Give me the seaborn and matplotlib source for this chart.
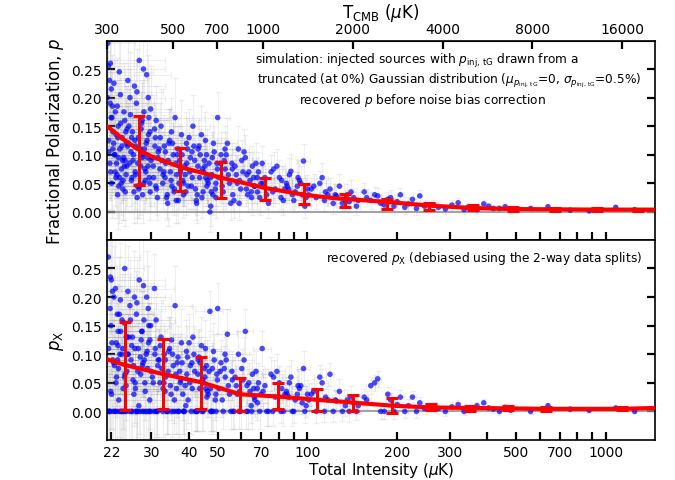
import numpy as np
import pandas as pd
import seaborn as sns
import matplotlib
matplotlib.use("Agg")
import matplotlib.pyplot as plt
from matplotlib.ticker import FixedLocator, FixedFormatter, NullLocator

# simulated sources (same sources in both panels)
intensity = [
    # 21-25 uK
    21.4, 21.5, 21.7, 21.8, 22.0, 22.1, 22.3, 22.4, 22.6, 22.7, 22.9, 23.0, 23.2, 23.3, 23.5, 23.6,
    23.8, 23.9, 24.1, 24.2, 24.4, 24.5, 24.7, 24.8, 21.6, 22.2, 22.8, 23.4, 24.0, 24.6, 21.9, 23.1,
    # 25-30
    25.1, 25.3, 25.5, 25.7, 25.9, 26.1, 26.3, 26.5, 26.7, 26.9, 27.1, 27.3, 27.6, 27.8, 28.0, 28.2,
    28.4, 28.7, 28.9, 29.1, 29.3, 29.6, 29.8, 25.4, 26.0, 26.6, 27.2, 27.9, 28.5, 29.0, 29.5, 26.2,
    # 30-40
    30.2, 30.5, 30.9, 31.2, 31.6, 32.0, 32.3, 32.7, 33.1, 33.5, 33.9, 34.3, 34.7, 35.1, 35.5, 36.0,
    36.4, 36.9, 37.3, 37.8, 38.2, 38.7, 39.1, 39.6, 30.7, 31.4, 32.5, 33.3, 34.5, 35.8, 36.6, 37.5,
    38.5, 39.4, 31.8, 34.0,
    # 40-50
    40.3, 40.8, 41.3, 41.9, 42.4, 43.0, 43.5, 44.1, 44.7, 45.3, 45.9, 46.5, 47.1, 47.8, 48.4, 49.1,
    49.7, 41.0, 42.7, 44.4, 46.2, 48.0, 49.4, 43.3, 45.6, 47.4,
    # 50-70
    50.5, 51.3, 52.2, 53.0, 53.9, 54.8, 55.8, 56.7, 57.7, 58.7, 59.7, 60.8, 61.9, 63.0, 64.2, 65.4,
    66.6, 67.9, 69.2, 52.6, 55.3, 58.2, 61.3, 64.8, 68.5, 50.0,
    # 70-100
    71, 73, 75.5, 78, 80.5, 83, 85.5, 88, 91, 94, 97, 99, 74, 79, 84, 89, 95, 98,
    # 100-150
    103, 107, 112, 117, 122, 128, 134, 140, 146, 110, 125, 138,
    # 150-250
    155, 163, 172, 181, 190, 200, 212, 225, 238, 247,
    # 250-500
    265, 290, 320, 345, 370, 405, 440, 480,
    # > 500
    560, 640, 760, 880, 1080, 1250,
    # second batch
    21.35, 21.55, 21.75, 21.95, 22.05, 22.25, 22.45, 22.65, 22.85, 23.05, 23.25, 23.45, 23.65,
    23.85, 24.05, 24.25, 24.45, 24.65, 24.85, 21.85, 22.55, 23.15, 23.75, 24.35, 24.95,
    25.2, 25.6, 25.8, 26.4, 26.8, 27.0, 27.4, 27.7, 28.1, 28.3, 28.6, 28.8, 29.2, 29.4, 29.7,
    29.9, 25.0, 26.45, 27.5, 28.25, 29.25, 25.75, 26.85, 27.95, 29.65,
    30.4, 30.8, 31.0, 31.5, 32.1, 32.8, 33.4, 33.7, 34.1, 34.9, 35.3, 35.7, 36.2, 36.8, 37.1,
    37.6, 38.0, 38.4, 38.9, 39.3, 39.8, 31.1, 33.0, 35.0, 36.3,
    40.5, 41.1, 41.6, 42.1, 42.9, 43.7, 44.3, 44.9, 45.5, 46.0, 46.8, 47.3, 48.2, 48.7, 49.3,
    49.9, 40.1, 42.5, 45.1, 47.6,
    51.0, 51.8, 53.4, 54.3, 56.2, 57.2, 59.2, 60.2, 62.4, 63.6, 65.0, 66.0, 67.2, 68.0, 69.8,
    52.9, 56.0, 59.0, 62.7, 66.3,
    72, 76.5, 77, 81.5, 82, 86.5, 87, 90, 92.5, 93, 96, 100, 70.5, 85,
    101, 105, 114, 119, 124, 131, 136, 143, 148, 115,
    158, 168, 176, 186, 195, 205, 218, 232,
    275, 305, 335, 390, 420, 460,
]
p_obs = [
    0.295, 0.255, 0.23, 0.19, 0.215, 0.165, 0.14, 0.12, 0.10, 0.175, 0.085, 0.065, 0.15, 0.045, 0.11, 0.205,
    0.075, 0.13, 0.055, 0.095, 0.16, 0.035, 0.12, 0.08, 0.105, 0.185, 0.06, 0.245, 0.09, 0.14, 0.07, 0.03,
    0.12, 0.085, 0.17, 0.055, 0.14, 0.10, 0.22, 0.065, 0.19, 0.045, 0.13, 0.265, 0.08, 0.155, 0.03, 0.25,
    0.11, 0.07, 0.24, 0.095, 0.135, 0.05, 0.18, 0.20, 0.09, 0.115, 0.04, 0.16, 0.075, 0.125, 0.06, 0.035,
    0.095, 0.06, 0.13, 0.04, 0.105, 0.075, 0.15, 0.05, 0.115, 0.085, 0.03, 0.12, 0.07, 0.045, 0.10, 0.165,
    0.065, 0.02, 0.09, 0.135, 0.055, 0.08, 0.035, 0.11, 0.145, 0.025, 0.09, 0.06, 0.125, 0.04, 0.10, 0.07,
    0.05, 0.085, 0.11, 0.015,
    0.07, 0.045, 0.15, 0.09, 0.02, 0.11, 0.06, 0.135, 0.035, 0.08, 0.10, 0.05, 0.0, 0.065, 0.12, 0.04,
    0.085, 0.105, 0.03, 0.075, 0.055, 0.095, 0.025, 0.115, 0.06, 0.01,
    0.06, 0.10, 0.035, 0.075, 0.12, 0.05, 0.085, 0.02, 0.065, 0.11, 0.04, 0.07, 0.095, 0.03, 0.055, 0.08,
    0.045, 0.06, 0.025, 0.09, 0.015, 0.05, 0.105, 0.035, 0.07, 0.165,
    0.05, 0.03, 0.07, 0.04, 0.06, 0.02, 0.045, 0.071, 0.035, 0.055, 0.089, 0.025, 0.015, 0.08, 0.04, 0.03, 0.05, 0.01,
    0.04, 0.025, 0.06, 0.03, 0.015, 0.045, 0.02, 0.035, 0.01, 0.05, 0.028, 0.018,
    0.035, 0.02, 0.028, 0.012, 0.025, 0.018, 0.008, 0.022, 0.028, 0.01,
    0.012, 0.005, 0.016, 0.008, 0.004, 0.01, 0.006, 0.003,
    0.006, 0.009, 0.003, 0.002, 0.008, 0.004,
    # second batch
    0.20, 0.125, 0.085, 0.165, 0.05, 0.11, 0.225, 0.07, 0.135, 0.185, 0.095, 0.06, 0.155,
    0.115, 0.04, 0.175, 0.09, 0.065, 0.145, 0.26, 0.10, 0.13, 0.05, 0.08, 0.115,
    0.15, 0.105, 0.06, 0.125, 0.21, 0.085, 0.045, 0.145, 0.10, 0.175, 0.055, 0.12, 0.08, 0.165, 0.035,
    0.09, 0.23, 0.07, 0.11, 0.05, 0.20, 0.13, 0.025, 0.095, 0.14,
    0.08, 0.115, 0.045, 0.095, 0.13, 0.065, 0.105, 0.025, 0.09, 0.055, 0.12, 0.035, 0.085, 0.11, 0.05,
    0.075, 0.10, 0.03, 0.065, 0.12, 0.045, 0.16, 0.07, 0.14, 0.02,
    0.095, 0.06, 0.115, 0.04, 0.08, 0.10, 0.025, 0.07, 0.125, 0.045, 0.085, 0.06, 0.03, 0.105, 0.05,
    0.075, 0.13, 0.015, 0.09, 0.035,
    0.085, 0.045, 0.10, 0.065, 0.03, 0.08, 0.055, 0.09, 0.04, 0.07, 0.025, 0.06, 0.085, 0.035, 0.05,
    0.11, 0.075, 0.015, 0.065, 0.045,
    0.06, 0.035, 0.075, 0.025, 0.055, 0.04, 0.065, 0.02, 0.045, 0.06, 0.03, 0.04, 0.085, 0.05,
    0.03, 0.045, 0.02, 0.04, 0.03, 0.015, 0.03, 0.025, 0.02, 0.035,
    0.025, 0.03, 0.015, 0.022, 0.01, 0.03, 0.014, 0.006,
    0.008, 0.012, 0.004, 0.014, 0.006, 0.009,
]
p_x = [
    0.0, 0.27, 0.0, 0.18, 0.23, 0.12, 0.0, 0.085, 0.0, 0.215, 0.06, 0.0, 0.14, 0.02, 0.10, 0.195,
    0.0, 0.16, 0.04, 0.0, 0.25, 0.0, 0.13, 0.07, 0.0, 0.21, 0.05, 0.17, 0.11, 0.0, 0.035, 0.09,
    0.10, 0.0, 0.16, 0.0, 0.13, 0.08, 0.20, 0.04, 0.17, 0.0, 0.11, 0.23, 0.065, 0.14, 0.0, 0.22,
    0.09, 0.0, 0.20, 0.075, 0.12, 0.02, 0.15, 0.185, 0.055, 0.0, 0.01, 0.14, 0.05, 0.105, 0.0, 0.03,
    0.06, 0.0, 0.11, 0.0, 0.09, 0.05, 0.13, 0.0, 0.10, 0.06, 0.0, 0.105, 0.045, 0.0, 0.08, 0.185,
    0.04, 0.0, 0.07, 0.12, 0.03, 0.0, 0.01, 0.095, 0.215, 0.0, 0.075, 0.035, 0.11, 0.02, 0.085, 0.05,
    0.0, 0.065, 0.09, 0.0,
    0.05, 0.0, 0.13, 0.07, 0.0, 0.09, 0.04, 0.115, 0.0, 0.06, 0.08, 0.03, 0.175, 0.0, 0.105, 0.02,
    0.065, 0.085, 0.0, 0.055, 0.035, 0.075, 0.0, 0.095, 0.04, 0.0,
    0.04, 0.085, 0.0, 0.06, 0.135, 0.03, 0.07, 0.0, 0.045, 0.10, 0.0, 0.055, 0.14, 0.0, 0.035, 0.065,
    0.02, 0.04, 0.0, 0.075, 0.0, 0.03, 0.09, 0.01, 0.05, 0.18,
    0.035, 0.0, 0.065, 0.025, 0.05, 0.0, 0.03, 0.06, 0.02, 0.04, 0.075, 0.01, 0.0, 0.07, 0.03, 0.0, 0.045, 0.0,
    0.03, 0.0, 0.05, 0.02, 0.0, 0.035, 0.01, 0.025, 0.0, 0.06, 0.018, 0.0,
    0.025, 0.045, 0.057, 0.0, 0.02, 0.012, 0.0, 0.025, 0.015, 0.005,
    0.008, 0.0, 0.012, 0.005, 0.01, 0.006, 0.0, 0.002,
    0.0, 0.01, 0.004, 0.002, 0.006, 0.0,
    # second batch
    0.0, 0.11, 0.0, 0.15, 0.03, 0.09, 0.20, 0.0, 0.12, 0.17, 0.075, 0.0, 0.14,
    0.10, 0.0, 0.155, 0.065, 0.045, 0.13, 0.235, 0.08, 0.115, 0.0, 0.06, 0.10,
    0.13, 0.09, 0.0, 0.11, 0.19, 0.07, 0.0, 0.125, 0.085, 0.16, 0.035, 0.10, 0.0, 0.15, 0.0,
    0.07, 0.21, 0.05, 0.095, 0.0, 0.18, 0.115, 0.0, 0.08, 0.125,
    0.05, 0.10, 0.0, 0.08, 0.115, 0.04, 0.09, 0.0, 0.07, 0.03, 0.10, 0.0, 0.065, 0.095, 0.0,
    0.055, 0.085, 0.0, 0.045, 0.105, 0.02, 0.16, 0.05, 0.125, 0.0,
    0.08, 0.04, 0.10, 0.0, 0.065, 0.085, 0.0, 0.05, 0.11, 0.025, 0.07, 0.04, 0.0, 0.09, 0.03,
    0.055, 0.12, 0.0, 0.075, 0.0,
    0.07, 0.02, 0.09, 0.045, 0.0, 0.06, 0.035, 0.075, 0.0, 0.05, 0.0, 0.04, 0.07, 0.015, 0.03,
    0.10, 0.055, 0.0, 0.045, 0.025,
    0.045, 0.0, 0.06, 0.0, 0.04, 0.025, 0.05, 0.0, 0.03, 0.045, 0.015, 0.03, 0.11, 0.035,
    0.02, 0.035, 0.0, 0.065, 0.02, 0.0, 0.02, 0.015, 0.01, 0.025,
    0.02, 0.05, 0.0, 0.03, 0.0, 0.025, 0.01, 0.0,
    0.005, 0.008, 0.0, 0.015, 0.004, 0.007,
]
p_err = [
    0.09, 0.08, 0.10, 0.07, 0.09, 0.08, 0.06, 0.085, 0.07, 0.09, 0.06, 0.075, 0.08, 0.065, 0.07, 0.10,
    0.06, 0.08, 0.07, 0.065, 0.09, 0.06, 0.075, 0.07, 0.08, 0.09, 0.06, 0.10, 0.07, 0.08, 0.065, 0.06,
    0.07, 0.06, 0.08, 0.055, 0.065, 0.07, 0.08, 0.06, 0.075, 0.055, 0.065, 0.09, 0.06, 0.07, 0.05, 0.085,
    0.065, 0.055, 0.08, 0.06, 0.07, 0.05, 0.075, 0.08, 0.06, 0.065, 0.05, 0.07, 0.055, 0.065, 0.05, 0.055,
    0.055, 0.05, 0.06, 0.045, 0.055, 0.05, 0.065, 0.045, 0.055, 0.05, 0.04, 0.06, 0.05, 0.045, 0.055, 0.07,
    0.05, 0.04, 0.05, 0.06, 0.045, 0.05, 0.04, 0.055, 0.06, 0.04, 0.05, 0.045, 0.055, 0.04, 0.05, 0.045,
    0.04, 0.05, 0.055, 0.04,
    0.045, 0.04, 0.055, 0.045, 0.035, 0.05, 0.04, 0.05, 0.035, 0.045, 0.045, 0.04, 0.035, 0.04, 0.05, 0.035,
    0.045, 0.045, 0.035, 0.04, 0.04, 0.045, 0.035, 0.05, 0.04, 0.035,
    0.035, 0.04, 0.03, 0.035, 0.045, 0.03, 0.035, 0.03, 0.035, 0.04, 0.03, 0.035, 0.04, 0.03, 0.03, 0.035,
    0.03, 0.035, 0.03, 0.04, 0.03, 0.03, 0.04, 0.03, 0.035, 0.045,
    0.03, 0.025, 0.03, 0.025, 0.03, 0.025, 0.025, 0.03, 0.025, 0.03, 0.03, 0.02, 0.025, 0.03, 0.025, 0.025, 0.03, 0.02,
    0.02, 0.02, 0.025, 0.02, 0.018, 0.022, 0.018, 0.02, 0.015, 0.022, 0.02, 0.018,
    0.015, 0.015, 0.014, 0.013, 0.013, 0.012, 0.012, 0.011, 0.011, 0.01,
    0.009, 0.008, 0.008, 0.007, 0.007, 0.006, 0.006, 0.006,
    0.005, 0.005, 0.004, 0.004, 0.003, 0.003,
    # second batch
    0.08, 0.07, 0.065, 0.085, 0.06, 0.07, 0.09, 0.06, 0.075, 0.085, 0.065, 0.06, 0.08,
    0.07, 0.055, 0.085, 0.065, 0.06, 0.075, 0.10, 0.065, 0.075, 0.055, 0.06, 0.07,
    0.065, 0.06, 0.05, 0.065, 0.075, 0.06, 0.05, 0.065, 0.06, 0.07, 0.05, 0.06, 0.055, 0.07, 0.05,
    0.055, 0.08, 0.055, 0.06, 0.05, 0.075, 0.065, 0.045, 0.055, 0.065,
    0.05, 0.055, 0.045, 0.05, 0.06, 0.045, 0.055, 0.04, 0.05, 0.045, 0.055, 0.04, 0.05, 0.055, 0.045,
    0.05, 0.05, 0.04, 0.045, 0.055, 0.04, 0.06, 0.045, 0.06, 0.04,
    0.045, 0.04, 0.05, 0.035, 0.04, 0.045, 0.035, 0.04, 0.05, 0.035, 0.045, 0.04, 0.035, 0.045, 0.04,
    0.04, 0.05, 0.035, 0.045, 0.035,
    0.035, 0.03, 0.04, 0.035, 0.03, 0.035, 0.03, 0.035, 0.03, 0.035, 0.03, 0.03, 0.035, 0.03, 0.03,
    0.04, 0.035, 0.03, 0.035, 0.03,
    0.03, 0.025, 0.03, 0.02, 0.025, 0.025, 0.03, 0.02, 0.025, 0.03, 0.02, 0.025, 0.03, 0.025,
    0.02, 0.022, 0.018, 0.02, 0.018, 0.016, 0.018, 0.016, 0.015, 0.02,
    0.015, 0.014, 0.014, 0.013, 0.013, 0.012, 0.012, 0.011,
    0.009, 0.008, 0.007, 0.007, 0.006, 0.006,
]
i_err = [
    5, 6, 4, 7, 5, 6, 4, 5, 6, 5, 7, 4, 5, 6, 5, 4, 6, 5, 7, 5, 4, 6, 5, 6, 5, 4, 6, 7, 5, 4, 6, 5,
    5, 6, 5, 4, 6, 5, 7, 5, 4, 6, 5, 6, 5, 4, 6, 5, 7, 5, 6, 4, 5, 6, 5, 4, 6, 5, 5, 6, 4, 5, 6, 5,
    5, 4, 6, 5, 4, 6, 5, 4, 5, 6, 4, 5, 6, 5, 4, 5, 6, 4, 5, 5, 6, 4, 5, 6, 5, 4, 6, 5, 4, 5, 6, 4,
    5, 6, 5, 4,
    5, 4, 6, 5, 4, 5, 6, 4, 5, 6, 4, 5, 5, 4, 6, 5, 4, 5, 6, 4, 5, 6, 5, 4, 5, 6,
    5, 4, 5, 6, 4, 5, 5, 6, 4, 5, 6, 5, 4, 5, 6, 5, 4, 5, 6, 5, 4, 5, 5, 6, 4, 5,
    5, 6, 5, 4, 5, 6, 5, 4, 6, 5, 5, 4, 6, 5, 4, 5, 6, 5,
    5, 6, 5, 4, 6, 5, 5, 6, 4, 5, 6, 5,
    5, 6, 5, 5, 6, 4, 5, 6, 5, 5,
    5, 6, 5, 4, 5, 6, 5, 5,
    5, 6, 5, 5, 6, 5,
    # second batch
    5, 6, 4, 5, 6, 5, 4, 6, 5, 7, 5, 4, 6, 5, 5, 6, 4, 5, 6, 5, 7, 5, 4, 6, 5,
    6, 5, 4, 5, 6, 5, 7, 4, 5, 6, 5, 4, 6, 5, 5, 6, 4, 5, 6, 5, 4, 6, 5, 5, 6,
    5, 6, 4, 5, 6, 5, 4, 5, 6, 5, 4, 6, 5, 5, 4, 6, 5, 5, 4, 6, 5, 5, 6, 4, 5,
    5, 6, 4, 5, 6, 5, 4, 5, 6, 5, 4, 6, 5, 4, 5, 6, 5, 4, 6, 5,
    5, 4, 6, 5, 5, 4, 6, 5, 4, 5, 6, 5, 4, 6, 5, 5, 4, 6, 5, 5,
    5, 4, 6, 5, 5, 4, 6, 5, 4, 5, 6, 5, 5, 4,
    5, 6, 5, 4, 5, 6, 5, 4, 5, 6,
    5, 6, 5, 4, 5, 6, 5, 5,
    5, 6, 5, 5, 6, 5,
]

# binned values (red) - top: recovered p, bottom: p_X
bin_I_top = [27.3, 37.5, 51.3, 71.8, 97.7, 134, 185, 256, 358, 487, 674, 933, 1280]
bin_p_top = [0.1075, 0.0745, 0.056, 0.0405, 0.032, 0.020, 0.0135, 0.010, 0.0075, 0.005, 0.0045, 0.004, 0.003]
bin_e_top = [0.0605, 0.0375, 0.032, 0.0195, 0.0175, 0.011, 0.0085, 0.006, 0.004, 0.003, 0.0025, 0.002, 0.002]
bin_I_bot = [24.5, 32.7, 44.0, 59.4, 79.5, 107.5, 142, 192, 260, 350, 470, 630, 1130]
bin_p_bot = [0.0795, 0.0655, 0.050, 0.029, 0.0265, 0.020, 0.0145, 0.010, 0.008, 0.005, 0.006, 0.004, 0.0045]
bin_e_bot = [0.0775, 0.0605, 0.046, 0.029, 0.0225, 0.019, 0.0145, 0.013, 0.005, 0.004, 0.003, 0.003, 0.0025]

# smooth trend curves
curve_I_top = [21.3, 24, 26.9, 30, 37.7, 51.3, 71.8, 97.7, 123, 185, 256, 358, 487, 674, 933, 1280, 1460]
curve_p_top = [0.150, 0.128, 0.110, 0.097, 0.078, 0.060, 0.042, 0.030, 0.024, 0.0175, 0.011, 0.0068, 0.005,
               0.0045, 0.004, 0.004, 0.004]
curve_I_bot = [21.3, 24.5, 32.7, 44.0, 59.4, 79.5, 107.5, 123, 192, 256, 350, 470, 630, 1130, 1460]
curve_p_bot = [0.091, 0.081, 0.0655, 0.051, 0.030, 0.026, 0.0204, 0.018, 0.010, 0.007, 0.006, 0.0053, 0.0045,
               0.0045, 0.006]

xticks = [22, 30, 40, 50, 60, 70, 80, 90, 100, 200, 300, 400, 500, 600, 700, 800, 900, 1000]
xticklabels = ['22', '30', '40', '50', '', '70', '', '', '100', '200', '300', '', '500', '', '700', '', '', '1000']
tcmb_ticks = [300, 500, 700, 1000, 2000, 4000, 8000, 16000]
K_TO_CMB = 14.1  # uK intensity -> uK_CMB

df = pd.DataFrame({'intensity': intensity, 'p': p_obs, 'px': p_x, 'p_err': p_err, 'i_err': i_err})

sns.set_style("ticks")
plt.rcParams['font.family'] = ['DejaVu Sans']
plt.rcParams['mathtext.fontset'] = 'dejavusans'
plt.rcParams.update({'axes.edgecolor': 'black', 'text.color': 'black', 'axes.labelcolor': 'black',
                     'xtick.color': 'black', 'ytick.color': 'black'})

fig, (ax1, ax2) = plt.subplots(2, 1, figsize=(6.75, 4.81), dpi=100, sharex=True)
fig.subplots_adjust(left=0.1585, right=0.970, top=0.9127, bottom=0.0832, hspace=0)

panels = [
    (ax1, 'p', bin_I_top, bin_p_top, bin_e_top, curve_I_top, curve_p_top),
    (ax2, 'px', bin_I_bot, bin_p_bot, bin_e_bot, curve_I_bot, curve_p_bot),
]
for ax, col, bI, bp, be, cI, cp in panels:
    ax.set_xscale('log')
    ax.errorbar(df['intensity'], df[col], xerr=df['i_err'], yerr=df['p_err'], fmt='none',
                ecolor='0.5', elinewidth=0.8, capsize=2.5, alpha=0.12, zorder=1)
    ax.axhline(0, color='0.55', lw=1.5, alpha=0.8, zorder=1.5)
    sns.scatterplot(data=df, x='intensity', y=col, color='blue', s=16, alpha=0.7,
                    edgecolor='none', ax=ax, zorder=2)
    sns.lineplot(x=cI, y=cp, color='red', lw=3, ax=ax, zorder=3)
    ax.errorbar(bI, bp, yerr=be, fmt='none', ecolor='red', elinewidth=2.2,
                capsize=4.5, capthick=2.2, zorder=4)
    ax.set_xlim(300 / K_TO_CMB, 1460)
    ax.set_ylim(-0.05, 0.299)
    ax.set_yticks([0, 0.05, 0.10, 0.15, 0.20, 0.25])
    ax.set_yticklabels(['0.00', '0.05', '0.10', '0.15', '0.20', '0.25'])
    ax.tick_params(direction='in', length=6, width=1.6, labelsize=10, right=True, top=False)
    ax.xaxis.set_major_locator(FixedLocator(xticks))
    ax.xaxis.set_major_formatter(FixedFormatter(xticklabels))
    ax.xaxis.set_minor_locator(NullLocator())
    for s in ax.spines.values():
        s.set_linewidth(1.2)

ax1.set_xlabel('')
ax1.set_ylabel('Fractional Polarization, $p$', fontsize=12)
ax2.set_ylabel('$p_{\\rm X}$', fontsize=12)
ax2.set_xlabel('Total Intensity ($\\mu$K)', fontsize=11, labelpad=1)
fig.align_ylabels([ax1, ax2])

top = ax1.secondary_xaxis('top', functions=(lambda x: x * K_TO_CMB, lambda t: t / K_TO_CMB))
top.xaxis.set_major_locator(FixedLocator(tcmb_ticks))
top.xaxis.set_major_formatter(FixedFormatter([str(t) for t in tcmb_ticks]))
top.xaxis.set_minor_locator(NullLocator())
top.tick_params(direction='in', length=6, width=1.6, labelsize=10)
top.set_xlabel('T$_{\\rm CMB}$ ($\\mu$K)', fontsize=12)

sub = '{p_{\\rm inj,\\,tG}}'
fs = 8.7
ax1.text(0.566, 0.905, 'simulation: injected sources with $p_{\\rm inj,\\,tG}$ drawn from a',
         transform=ax1.transAxes, ha='center', va='center', fontsize=fs)
ax1.text(0.624, 0.805, 'truncated (at 0%) Gaussian distribution ($\\mu_' + sub + '$=0, $\\sigma_' + sub + '$=0.5%)',
         transform=ax1.transAxes, ha='center', va='center', fontsize=fs)
ax1.text(0.577, 0.705, 'recovered $p$ before noise bias correction',
         transform=ax1.transAxes, ha='center', va='center', fontsize=fs)
ax2.text(0.976, 0.913, 'recovered $p_{\\rm X}$ (debiased using the 2-way data splits)',
         transform=ax2.transAxes, ha='right', va='center', fontsize=fs)

fig.savefig('out.png', dpi=100)
